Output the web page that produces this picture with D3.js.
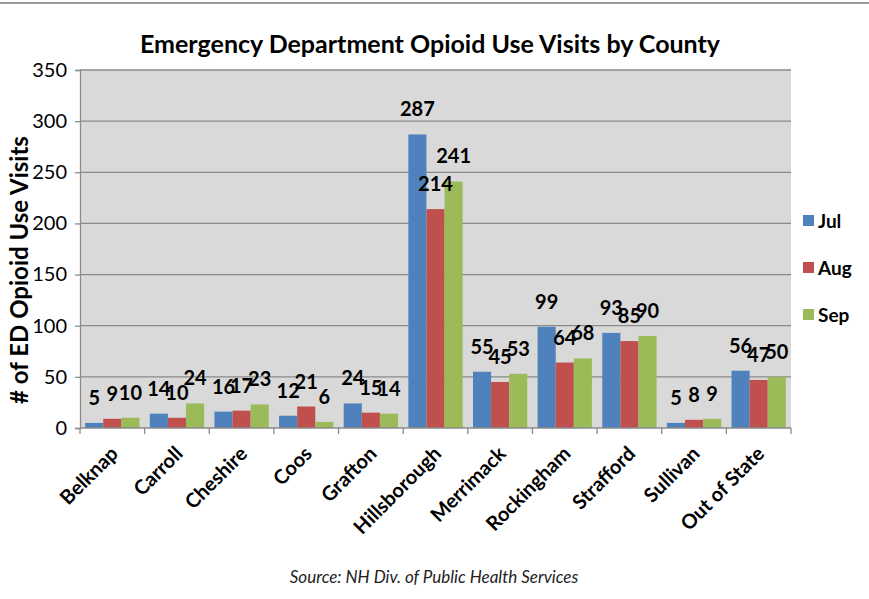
<!DOCTYPE html>
<html>
<head>
<meta charset="utf-8">
<script src="https://cdn.jsdelivr.net/npm/d3@7"></script>
<style>
  body { margin: 0; background: #fff; }
  svg { display: block; font-family: Lato, "Open Sans", sans-serif; }
</style>
</head>
<body>
<div id="wrapper"></div>
<script>
const counties = ["Belknap", "Carroll", "Cheshire", "Coos", "Grafton", "Hillsborough",
    "Merrimack", "Rockingham", "Strafford", "Sullivan", "Out of State"];
const months = ["Jul", "Aug", "Sep"];
const julValues = [5, 14, 16, 12, 24, 287, 55, 99, 93, 5, 56];
const augValues = [9, 10, 17, 21, 15, 214, 45, 64, 85, 8, 47];
const sepValues = [10, 24, 23, 6, 14, 241, 53, 68, 90, 9, 50];
const yTicks = [0, 50, 100, 150, 200, 250, 300, 350];
const colors = ["#4F81BD", "#C0504D", "#9BBB59"];

const seriesValues = [julValues, augValues, sepValues];
const data = counties.map((c, i) => ({
    county: c,
    values: months.map((m, j) => ({ month: m, value: seriesValues[j][i] }))
}));

let dimensions = {
    width: 869,
    height: 599,
    margin: { top: 70, right: 78, bottom: 171, left: 80 }
};
dimensions.boundedWidth = dimensions.width - dimensions.margin.left - dimensions.margin.right;
dimensions.boundedHeight = dimensions.height - dimensions.margin.top - dimensions.margin.bottom;

const svgRoot = d3.select("#wrapper")
    .append("svg")
    .attr("width", dimensions.width)
    .attr("height", dimensions.height);

// top rule
svgRoot.append("line")
    .attr("x1", 0).attr("x2", dimensions.width)
    .attr("y1", 3).attr("y2", 3)
    .attr("stroke", "#9a9a9a").attr("stroke-width", 2);

svgRoot.append("text")
    .attr("x", 430).attr("y", 53)
    .attr("text-anchor", "middle")
    .style("font-size", "25px").style("font-weight", "bold")
    .text("Emergency Department Opioid Use Visits by County");

const svg = svgRoot.append("g")
    .attr("transform", `translate(${dimensions.margin.left},${dimensions.margin.top})`);

const x0 = d3.scaleBand()
    .domain(counties)
    .range([0, dimensions.boundedWidth])
    .paddingInner(0.16)
    .paddingOuter(0.08);

const x1 = d3.scaleBand()
    .domain(months)
    .range([0, x0.bandwidth()]);

const yScale = d3.scaleLinear()
    .domain([0, 350])
    .range([dimensions.boundedHeight, 0]);

svg.append("rect")
    .attr("width", dimensions.boundedWidth)
    .attr("height", dimensions.boundedHeight)
    .attr("fill", "#D9D9D9");

// gridlines
svg.append("g")
    .selectAll("line")
    .data(yTicks.slice(1))
    .join("line")
    .attr("x1", 0).attr("x2", dimensions.boundedWidth)
    .attr("y1", d => yScale(d)).attr("y2", d => yScale(d))
    .attr("stroke", "#8a8a8a").attr("stroke-width", 1.3);

// bars
const groups = svg.append("g")
    .selectAll("g")
    .data(data)
    .join("g")
    .attr("transform", d => `translate(${x0(d.county)},0)`);

groups.selectAll("rect")
    .data(d => d.values)
    .join("rect")
    .attr("x", d => x1(d.month))
    .attr("width", x1.bandwidth())
    .attr("y", d => yScale(d.value))
    .attr("height", d => dimensions.boundedHeight - yScale(d.value))
    .attr("fill", (d, i) => colors[i]);

groups.selectAll("text")
    .data(d => d.values)
    .join("text")
    .attr("x", d => x1(d.month) + x1.bandwidth() / 2)
    .attr("y", d => yScale(d.value) - 18)
    .attr("text-anchor", "middle")
    .style("font-size", "20px").style("font-weight", "bold")
    .text(d => d.value);

// y axis
const yAxis = svg.append("g")
    .call(d3.axisLeft(yScale).tickValues(yTicks).tickSize(5).tickPadding(8));
yAxis.select(".domain").attr("stroke", "#8a8a8a").attr("stroke-width", 1.3);
yAxis.selectAll(".tick line").attr("stroke", "#8a8a8a").attr("stroke-width", 1.3);
yAxis.selectAll(".tick text")
    .style("font-size", "20px")
    .style("font-family", "Lato, sans-serif")
    .attr("fill", "#000");

// x axis with ticks at category boundaries
const xAxis = svg.append("g")
    .attr("transform", `translate(0,${dimensions.boundedHeight})`);
xAxis.append("line")
    .attr("x1", 0).attr("x2", dimensions.boundedWidth)
    .attr("stroke", "#8a8a8a").attr("stroke-width", 1.3);
const step = x0.step();
xAxis.selectAll(".xtick")
    .data(d3.range(counties.length + 1))
    .join("line")
    .attr("class", "xtick")
    .attr("x1", i => i * step).attr("x2", i => i * step)
    .attr("y1", 0).attr("y2", 6)
    .attr("stroke", "#8a8a8a").attr("stroke-width", 1.3);
xAxis.selectAll(".xlabel")
    .data(counties)
    .join("text")
    .attr("class", "xlabel")
    .attr("text-anchor", "end")
    .attr("transform", d => `translate(${x0(d) + x0.bandwidth() / 2 + 7},${27}) rotate(-45)`)
    .style("font-size", "20px").style("font-weight", "bold")
    .text(d => d);

// y title
svgRoot.append("text")
    .attr("transform", "translate(28,270) rotate(-90)")
    .attr("text-anchor", "middle")
    .style("font-size", "24px").style("font-weight", "bold")
    .text("# of ED Opioid Use Visits");

// legend
const legend = svgRoot.append("g")
    .selectAll("g")
    .data(months)
    .join("g")
    .attr("transform", (d, i) => `translate(803,${221 + i * 47})`);
legend.append("rect")
    .attr("x", 0).attr("y", -6)
    .attr("width", 11).attr("height", 11)
    .attr("fill", (d, i) => colors[i]);
legend.append("text")
    .attr("x", 15).attr("y", 7)
    .style("font-size", "19px").style("font-weight", "bold")
    .text(d => d);

svgRoot.append("text")
    .attr("x", 434).attr("y", 583)
    .attr("text-anchor", "middle")
    .style("font-size", "17px").style("font-style", "italic")
    .attr("fill", "#222")
    .text("Source: NH Div. of Public Health Services");
</script>
</body>
</html>
